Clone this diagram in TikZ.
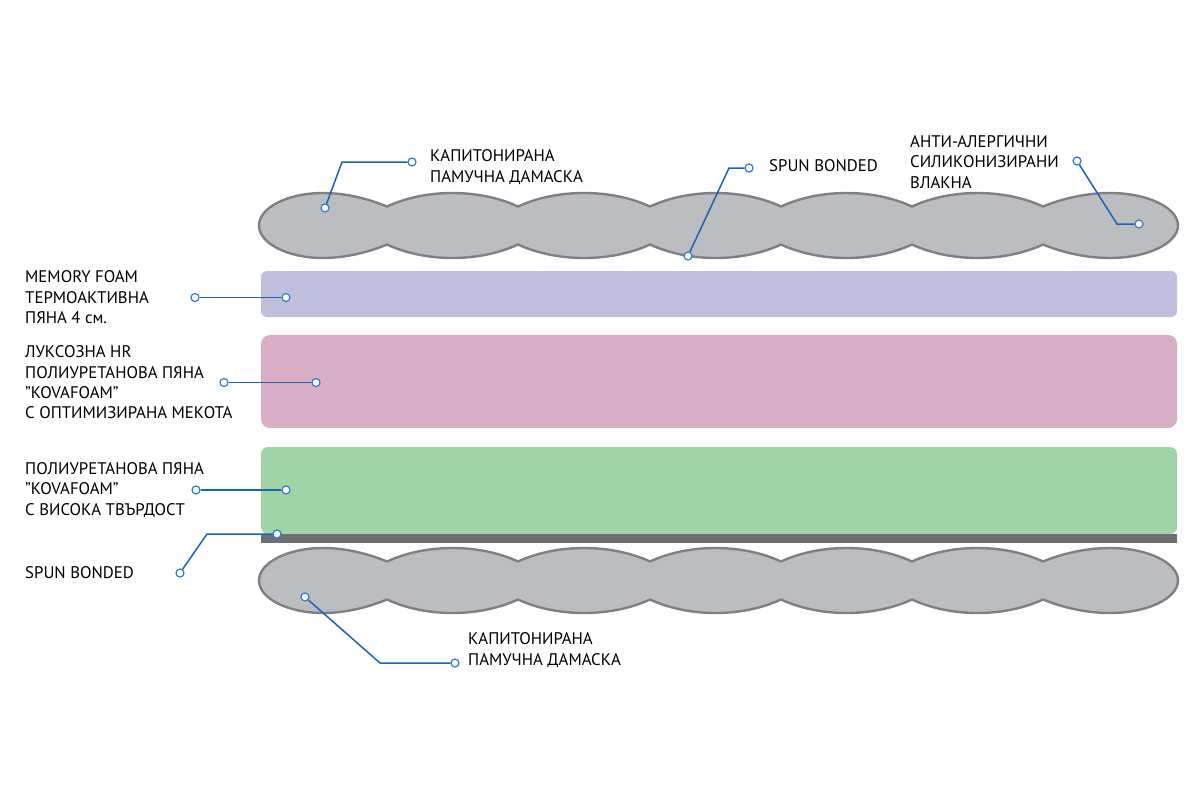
\documentclass[tikz,border=0pt]{standalone}
\usepackage{fontspec}
\setmainfont{PT Sans}
\definecolor{quiltgray}{HTML}{BCBDC0}
\definecolor{quiltedge}{HTML}{7F8083}
\definecolor{memfoam}{HTML}{C0BEDD}
\definecolor{hrfoam}{HTML}{D9AFC7}
\definecolor{hardfoam}{HTML}{A0D3A8}
\definecolor{spunbond}{HTML}{6D6E71}
\definecolor{leadblue}{HTML}{1A64B4}
\definecolor{dotblue}{HTML}{2F7CCB}

% quilted damask, #1 = middle line
\newcommand\quilt[1]{%
  \draw[quilt] (259,#1)
    .. controls (259,#1-18) and (288,#1-32.5) .. (323,#1-32.5)
    .. controls (347,#1-32.5) and (370,#1-26) .. (387,#1-19)
    \foreach \ja/\jb in {387/518,518/650,650/781,781/912,912/1043}{
      .. controls (\ja+39,#1-37) and (\jb-39,#1-37) .. (\jb,#1-19)}
    .. controls (1060,#1-26) and (1084,#1-32.5) .. (1110,#1-32.5)
    .. controls (1147,#1-32.5) and (1178,#1-18) .. (1178,#1)
    .. controls (1178,#1+18) and (1147,#1+32.5) .. (1110,#1+32.5)
    .. controls (1084,#1+32.5) and (1060,#1+26) .. (1043,#1+19)
    \foreach \ja/\jb in {1043/912,912/781,781/650,650/518,518/387}{
      .. controls (\ja-39,#1+37) and (\jb+39,#1+37) .. (\jb,#1+19)}
    .. controls (370,#1+26) and (347,#1+32.5) .. (323,#1+32.5)
    .. controls (288,#1+32.5) and (259,#1+18) .. cycle;%
}

\begin{document}
\begin{tikzpicture}[x=1pt,y=-1pt,
    quilt/.style={fill=quiltgray,draw=quiltedge,line width=2.4},
    lead/.style={leadblue,line width=1.5},
    pindot/.style={circle,draw=dotblue,fill=white,line width=1.2,inner sep=0,minimum size=8},
    lbl/.style={anchor=west,align=left,inner sep=0,text=black,
      font=\fontsize{16.8}{20.4}\selectfont}]
  \useasboundingbox[fill=white] (0,0) rectangle (1200,801);

  % layers
  \quilt{225.5}
  \fill[memfoam,rounded corners=6] (261,271) rectangle (1177,317);
  \fill[hrfoam,rounded corners=9] (261,335) rectangle (1177,428);
  \fill[hardfoam,rounded corners=7] (261,447) rectangle (1177,534);
  \fill[spunbond] (261,534) rectangle (1177,543);
  \quilt{580.5}

  % labels
  \node[lbl] (damtop) at (430,167) {КАПИТОНИРАНА\\ПАМУЧНА ДАМАСКА};
  \node[lbl] (spuntop) at (769,166) {SPUN BONDED};
  \node[lbl] (fibre) at (910,162) {АНТИ-АЛЕРГИЧНИ\\СИЛИКОНИЗИРАНИ\\ВЛАКНА};
  \node[lbl] (memory) at (25,297.5) {MEMORY FOAM\\ТЕРМОАКТИВНА\\ПЯНА 4 см.};
  \node[lbl] (hr) at (25,382.5) {ЛУКСОЗНА HR\\ПОЛИУРЕТАНОВА ПЯНА\\”KOVAFOAM”\\С ОПТИМИЗИРАНА МЕКОТА};
  \node[lbl] (hard) at (25,490) {ПОЛИУРЕТАНОВА ПЯНА\\”KOVAFOAM”\\С ВИСОКА ТВЪРДОСТ};
  \node[lbl] (spunbot) at (25,573) {SPUN BONDED};
  \node[lbl] (dambot) at (468,650) {КАПИТОНИРАНА\\ПАМУЧНА ДАМАСКА};

  % callout dots
  \node[pindot] (d1a) at (325,208) {};
  \node[pindot] (d1b) at (412,162) {};
  \node[pindot] (s1a) at (688,256) {};
  \node[pindot] (s1b) at (749,168) {};
  \node[pindot] (f1a) at (1077,161) {};
  \node[pindot] (f1b) at (1139,224) {};
  \node[pindot] (m1a) at (195,297.5) {};
  \node[pindot] (m1b) at (286,297.5) {};
  \node[pindot] (h1a) at (224,382.5) {};
  \node[pindot] (h1b) at (316,382.5) {};
  \node[pindot] (p1a) at (196,490) {};
  \node[pindot] (p1b) at (286,490) {};
  \node[pindot] (s2a) at (180,573) {};
  \node[pindot] (s2b) at (277,534) {};
  \node[pindot] (d2a) at (305,597) {};
  \node[pindot] (d2b) at (455,663) {};

  % bends
  \coordinate (d1k) at (342,162);
  \coordinate (s1k) at (729,168);
  \coordinate (f1k) at (1117,224);
  \coordinate (s2k) at (207,534);
  \coordinate (d2k) at (380,663);

  % leader lines
  \draw[lead] (d1a) -- (d1k) -- (d1b);
  \draw[lead] (s1a) -- (s1k) -- (s1b);
  \draw[lead] (f1a) -- (f1k) -- (f1b);
  \draw[lead] (m1a) -- (m1b);
  \draw[lead] (h1a) -- (h1b);
  \draw[lead] (p1a) -- (p1b);
  \draw[lead] (s2a) -- (s2k) -- (s2b);
  \draw[lead] (d2a) -- (d2k) -- (d2b);
\end{tikzpicture}
\end{document}
